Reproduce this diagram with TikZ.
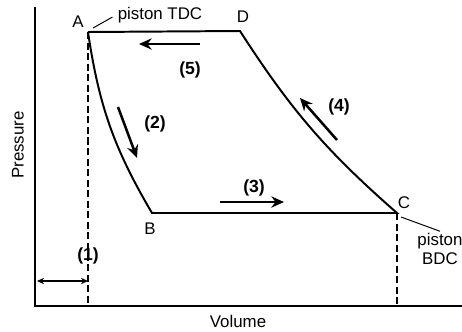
\documentclass[tikz,border=0pt]{standalone}
\usepackage{fontspec}
\setmainfont{Liberation Sans}
\usepackage{tikz}
\usetikzlibrary{arrows.meta, positioning, calc}

\begin{document}
\begin{tikzpicture}[
  x=0.025cm, y=-0.025cm,
  axis/.style={line width=1.1pt},
  loopline/.style={line width=1.4pt},
  guide/.style={line width=1.1pt, dash pattern=on 5pt off 2.5pt},
  fwd/.style={-{Stealth[length=9pt, width=8pt]}, line width=1.8pt},
  span/.style={{Stealth[length=5pt, width=4.5pt]}-{Stealth[length=5pt, width=4.5pt]}, line width=0.9pt},
  lead/.style={line width=0.7pt},
  pt/.style={font=\fontsize{12}{14}\selectfont, inner sep=1pt},
  num/.style={font=\fontsize{12.5}{14}\selectfont\bfseries, inner sep=1pt},
]
  \useasboundingbox (0,0) rectangle (462,331);

  % ── Axes ──────────────────────────────────────────────────────────
  \coordinate (O)    at (35,306);
  \coordinate (Ytop) at (35,7);
  \coordinate (Xend) at (462,306);
  \draw[axis] (Ytop) -- (O) -- (Xend);
  \node[pt, rotate=90] (P) at (18,145) {Pressure};
  \node[pt] (V) at (238,321) {Volume};

  % ── Cycle corners ─────────────────────────────────────────────────
  \coordinate (A) at (88,32);
  \coordinate (D) at (240,31);
  \coordinate (C) at (397,213);
  \coordinate (B) at (152,213);
  \coordinate (Abot) at (88,306);
  \coordinate (Cbot) at (397,306);
  \draw[loopline] (A) -- (D) to[bend right=8] (C) -- (B) to[bend left=11] (A);
  \draw[guide] (A) -- (Abot);
  \draw[guide] (C) -- (Cbot);

  \node[pt] (lA) at (78,22)  {A};
  \node[pt] (lD) at (243,17) {D};
  \node[pt] (lB) at (150,229) {B};
  \node[pt] (lC) at (404,203) {C};

  % ── Piston positions ──────────────────────────────────────────────
  \node[pt] (tdc) at (160,15) {piston TDC};
  \coordinate (tdcfoot) at (93,28);
  \draw[lead, shorten >=3pt] (tdcfoot) -- (tdc.west);
  \node[pt, align=center] (bdc) at (440,249) {piston\\BDC};
  \coordinate (bdcfoot) at (401,217);
  \draw[lead] (bdcfoot) -- (bdc.north);

  % ── Strokes ───────────────────────────────────────────────────────
  \coordinate (s5) at (200,44);  \coordinate (e5) at (139,44);
  \draw[fwd] (s5) -- (e5);
  \node[num] (n5) at (190,70) {(5)};

  \coordinate (s2) at (118,107); \coordinate (e2) at (137,158);
  \draw[fwd] (s2) -- (e2);
  \node[num] (n2) at (155,124) {(2)};

  \coordinate (s3) at (220,202); \coordinate (e3) at (284,202);
  \draw[fwd] (s3) -- (e3);
  \node[num] (n3) at (254,188) {(3)};

  \coordinate (s4) at (337,140); \coordinate (e4) at (300,98);
  \draw[fwd] (s4) -- (e4);
  \node[num] (n4) at (339,107) {(4)};

  % ── Clearance volume ──────────────────────────────────────────────
  \coordinate (s1) at (37,281);  \coordinate (e1) at (88,281);
  \draw[span] (s1) -- (e1);
  \node[num] (n1) at (88,256) {(1)};
\end{tikzpicture}
\end{document}
